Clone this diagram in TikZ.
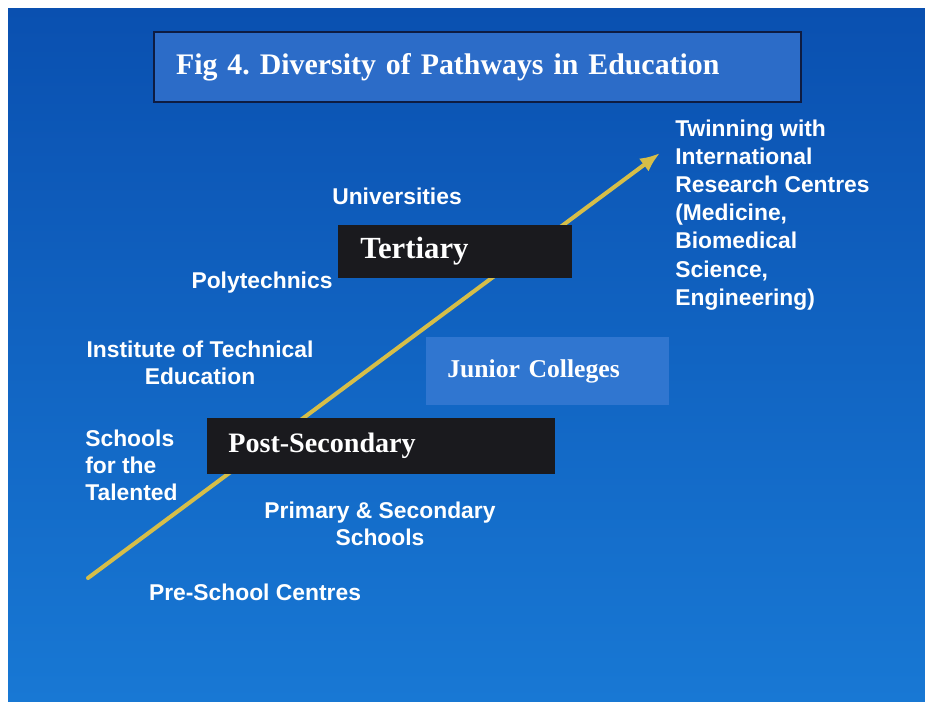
\documentclass[tikz,border=0pt]{standalone}
\usepackage{fontspec}
\setmainfont{Liberation Sans}
\newfontfamily\boxfont{Liberation Serif}
\usetikzlibrary{arrows.meta}

\definecolor{slidetop}{RGB}{10,80,176}
\definecolor{slidebottom}{RGB}{24,120,212}
\definecolor{titlefill}{RGB}{44,108,200}
\definecolor{titleline}{RGB}{14,28,66}
\definecolor{jcfill}{RGB}{48,118,208}
\definecolor{stagefill}{RGB}{26,26,30}
\definecolor{pathgold}{RGB}{214,190,72}

\begin{document}
\frenchspacing
\begin{tikzpicture}[
		x=0.02cm, y=-0.02cm,
		label/.style={text=white, font=\bfseries\fontsize{13}{15.3}\selectfont, inner sep=0pt, align=center},
		stage/.style={fill=stagefill, text=white, anchor=west, align=left, inner ysep=0pt},
		arrow/.style={-{Latex[length=4mm, width=3.2mm]}, line width=2.3pt, draw=pathgold}
	]

		% Slide background
		\fill[white] (0,0) rectangle (925,701);
		\shade[top color=slidetop, bottom color=slidebottom] (8,8) rectangle (925,701);

		% Path coordinates
		\coordinate (start) at (88,578);
		\coordinate (finish) at (660,153);

		% Arrow
		\draw[arrow, line cap=round] (start) -- (finish);

		% Boxes
		\node[anchor=west, fill=titlefill, draw=titleline, line width=1.2pt, text=white,
			text width=12.06cm, inner xsep=0.44cm, minimum height=1.4cm, align=left,
			font=\boxfont\bfseries\fontsize{17}{20}\selectfont] (title) at (153,67)
			{Fig 4. Diversity of Pathways in Education};
		\node[stage, text width=3.8cm, inner xsep=0.44cm, minimum height=1.06cm,
			font=\boxfont\bfseries\fontsize{17.5}{20}\selectfont] (tertiary) at (338,251) {Tertiary};
		\node[stage, text width=6.12cm, inner xsep=0.42cm, minimum height=1.12cm,
			font=\boxfont\bfseries\fontsize{16}{19}\selectfont] (postsec) at (207,446) {Post-Secondary};
		\node[stage, fill=jcfill, text width=4.02cm, inner xsep=0.42cm, minimum height=1.36cm,
			font=\boxfont\bfseries\fontsize{14.6}{17}\selectfont] (junior) at (426,371) {Junior Colleges};

		% Labels
		\node[label] (univ) at (397,196) {Universities};
		\node[label] (poly) at (262,283) {Polytechnics};
		\node[label] (ite) at (200,363) {Institute of Technical\\Education};
		\node[label, anchor=west, align=left] (talented) at (85,465) {Schools\\for the\\Talented};
		\node[label] (primsec) at (380,524) {Primary \& Secondary\\Schools};
		\node[label] (preschool) at (255,592) {Pre-School Centres};
		\node[label, anchor=west, align=left, font=\bfseries\fontsize{13}{16}\selectfont] (twinning) at (675,215)
			{Twinning with\\International\\Research Centres\\(Medicine,\\Biomedical\\Science,\\Engineering)};

	\end{tikzpicture}
\end{document}
